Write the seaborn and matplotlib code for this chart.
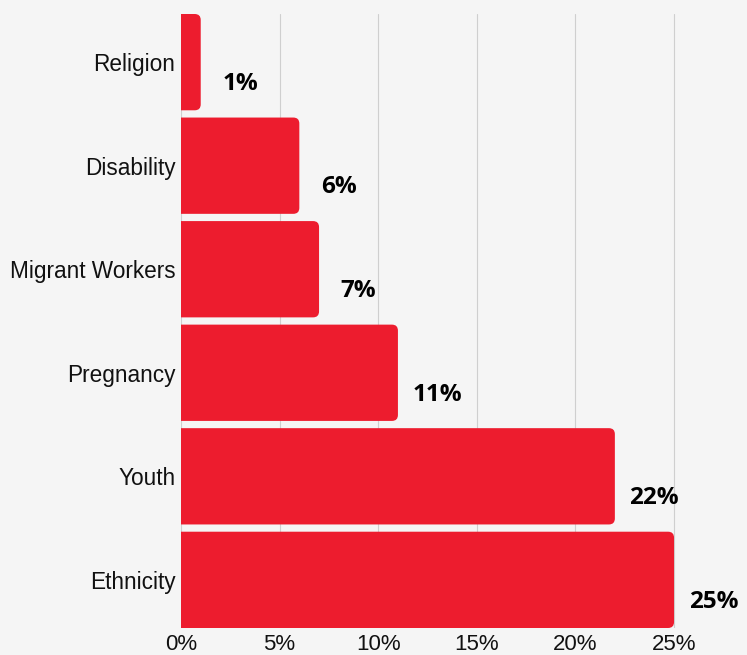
import matplotlib
matplotlib.use("Agg")
import matplotlib.pyplot as plt
import seaborn as sns
import pandas as pd
from matplotlib.patches import FancyBboxPatch
from matplotlib.ticker import FuncFormatter

# dati
categories = ["Religion", "Disability", "Migrant Workers", "Pregnancy", "Youth", "Ethnicity"]
values = [1, 6, 7, 11, 22, 25]
x_ticks = [0, 5, 10, 15, 20, 25]

sns.set_style("white")
plt.rcParams['font.family'] = ['Liberation Sans', 'DejaVu Sans']

bar_color = "#ED1C2E"
bg = "#F5F5F5"

df = pd.DataFrame({"category": categories, "value": values})

fig = plt.figure(figsize=(7.47, 6.55), dpi=100, facecolor=bg)
ax = fig.add_axes([181 / 747, 27 / 655, 1 - 181 / 747, (628 - 14) / 655])
ax.set_facecolor(bg)

sns.barplot(data=df, x="value", y="category", orient="h", color=bar_color,
            width=0.93, saturation=1, ax=ax, zorder=3)

ax.set_xlim(0, 28.7)
ax.set_ylim(5.465, -0.465)

# barre con angoli arrotondati a destra
fig.canvas.draw()
px_x = ax.transData.transform((1, 0))[0] - ax.transData.transform((0, 0))[0]
px_y = abs(ax.transData.transform((0, 1))[1] - ax.transData.transform((0, 0))[1])
r_px = 6
r_x = r_px / px_x
aspect = (r_px / px_y) / r_x
for p in list(ax.patches):
    x0, y0, w, h = p.get_x(), p.get_y(), p.get_width(), p.get_height()
    p.remove()
    box = FancyBboxPatch((x0 - 2 * r_x, y0), w + 2 * r_x, h,
                         boxstyle=f"round,pad=0,rounding_size={r_x}",
                         mutation_aspect=aspect, facecolor=bar_color,
                         edgecolor="none", zorder=3, clip_on=True)
    ax.add_patch(box)

# etichette valori
for i, v in enumerate(values):
    ax.text(v + 2.0, i + 0.21, f"{v}%", ha="center", va="center",
            fontsize=17.5, fontweight="bold", color="black",
            family=["Open Sans", "DejaVu Sans"], zorder=5)

ax.set_xticks(x_ticks)
ax.xaxis.set_major_formatter(FuncFormatter(lambda x, _: f"{int(x)}%"))
ax.tick_params(axis="x", length=0, pad=4, labelsize=16, colors="#111111")
ax.tick_params(axis="y", length=0, pad=4, labelsize=16.3, colors="#111111")
ax.grid(axis="x", color="#CFCFCF", linewidth=0.8, zorder=0)
ax.set_axisbelow(True)
for s in ax.spines.values():
    s.set_visible(False)
ax.set_xlabel("")
ax.set_ylabel("")

fig.savefig("out.png", dpi=100, facecolor=bg)
